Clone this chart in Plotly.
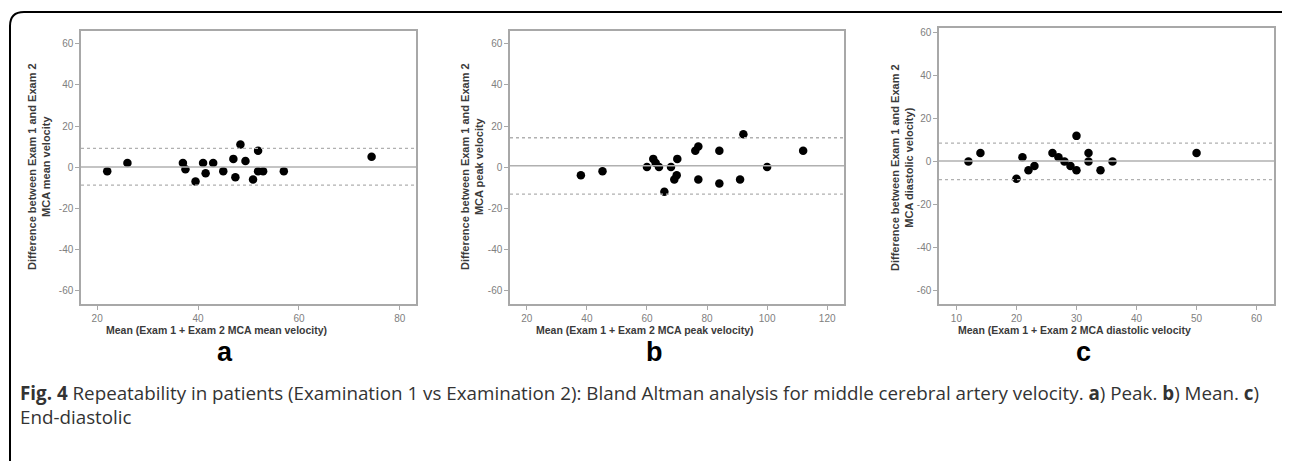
import plotly.graph_objects as go

# page body has an 8px default margin; compensate so the figure fills the 1290x461 window
OFF = 8
W, H = 1290 - OFF, 461 - OFF

# ---------------- data ----------------
a_mean = [22, 26, 37, 37.5, 39.5, 41, 41.5, 43, 45, 47, 47.4, 48.4, 49.4, 50.9, 51.9, 51.9, 52.9, 57, 74.4]
a_diff = [-2, 2, 2, -1, -7, 2, -3, 2, -2, 4, -5, 11, 3, -6, 8, -2, -2, -2, 5]
a_lines = [0.0, 9.1, -8.8]  # bias, upper LoA, lower LoA

b_mean = [38, 45.2, 60, 62.1, 62.9, 64, 65.8, 68, 69.1, 69.9, 70.1, 76.1, 77.1, 77.1, 84.1, 84.1, 91, 92.1, 100, 112]
b_diff = [-4, -2, 0, 4, 2, 0, -12, 0, -6, -4, 4, 8, 10, -6, 8, -8, -6, 16, 0, 8]
b_lines = [0.6, 14.3, -13.2]

c_mean = [12, 14, 20, 21, 22, 23, 26, 27, 28, 29, 30, 30, 32, 32, 34, 36, 50]
c_diff = [0, 4, -8, 2, -4, -2, 4, 2, 0, -2, -4, 12, 4, 0, -4, 0, 4]
c_lines = [0.3, 8.6, -8.4]

y_ticks = [60, 40, 20, 0, -20, -40, -60]
a_xticks = [20, 40, 60, 80]
b_xticks = [20, 40, 60, 80, 100, 120]
c_xticks = [10, 20, 30, 40, 50, 60]

y_titles = [["Difference between Exam 1 and Exam 2", "MCA mean velocity"],
            ["Difference between Exam 1 and Exam 2", "MCA peak velocity"],
            ["Difference between Exam 1 and Exam 2", "MCA diastolic velocity)"]]
x_titles = ["Mean (Exam 1 + Exam 2 MCA mean velocity)",
            "Mean (Exam 1 + Exam 2 MCA peak velocity)",
            "Mean (Exam 1 + Exam 2 MCA diastolic velocity"]
letters = ["a", "b", "c"]
caption1 = ("<b>Fig. 4</b> Repeatability in patients (Examination 1 vs Examination 2): Bland Altman analysis "
            "for middle cerebral artery velocity. <b>a</b>) Peak. <b>b</b>) Mean. <b>c</b>)")
caption2 = "End-diastolic"

# ---------------- layout geometry (window pixels) ----------------
def px(x):
    return (x - OFF) / W

def py(y):
    return 1 - (y - OFF) / H

panels = [
    dict(x0=81, x1=416, y0=31, y1=304, xr=[16.8, 83.2], yr=[-66.7, 66.3], ytx=39, xc=248),
    dict(x0=510, x1=844, y0=31, y1=304, xr=[14.4, 125.6], yr=[-66.7, 66.3], ytx=472, xc=677),
    dict(x0=939, x1=1274, y0=28, y1=304, xr=[7.1, 62.9], yr=[-66.4, 62.3], ytx=902, xc=1106),
]
data = [(a_mean, a_diff, a_lines, a_xticks), (b_mean, b_diff, b_lines, b_xticks), (c_mean, c_diff, c_lines, c_xticks)]

fig = go.Figure()
axis_gray = "#a8a8a8"
tick_font = dict(family="Liberation Sans, Arial", size=10, color="#808080")
shapes = []
annotations = []

for i, (p, (xs, ys, lines, xt)) in enumerate(zip(panels, data)):
    n = "" if i == 0 else str(i + 1)
    xa, ya = "x" + n, "y" + n
    fig.add_trace(go.Scatter(x=xs, y=ys, mode="markers", xaxis=xa, yaxis=ya,
                             marker=dict(size=8.5, color="black"), showlegend=False,
                             hoverinfo="x+y"))
    common = dict(showline=True, linecolor=axis_gray, linewidth=1.5, mirror=True,
                  ticks="outside", ticklen=4, tickcolor=axis_gray, tickwidth=1,
                  showgrid=False, zeroline=False, tickfont=tick_font, fixedrange=True)
    fig.update_layout(**{
        "xaxis" + n: dict(domain=[px(p["x0"]), px(p["x1"])], range=p["xr"], anchor=ya,
                          tickvals=xt, ticktext=[str(v) for v in xt], **common),
        "yaxis" + n: dict(domain=[py(p["y1"]), py(p["y0"])], range=p["yr"], anchor=xa,
                          tickvals=y_ticks, ticktext=[str(v) for v in y_ticks], **common),
    })
    # bias and limits of agreement
    for k, yv in enumerate(lines):
        shapes.append(dict(type="line", xref=xa + " domain", yref=ya, x0=0, x1=1, y0=yv, y1=yv,
                           line=dict(color="#b0b0b0", width=1.5 if k == 0 else 1.3,
                                     dash="solid" if k == 0 else "dot")))
    annotations.append(dict(text="<b>" + y_titles[i][0] + "</b><br><b>" + y_titles[i][1] + "</b>",
                            xref="paper", yref="paper", x=px(p["ytx"]), y=py(167),
                            textangle=-90, showarrow=False, xanchor="center", yanchor="middle",
                            font=dict(family="Liberation Sans, Arial", size=11, color="#3a3a3a"),
                            align="center"))
    annotations.append(dict(text="<b>" + x_titles[i] + "</b>", xref="paper", yref="paper",
                            x=px(p["xc"] - 32), y=py(330), showarrow=False, xanchor="center",
                            yanchor="middle",
                            font=dict(family="Liberation Sans, Arial", size=10.5, color="#3a3a3a")))
    annotations.append(dict(text="<b>" + letters[i] + "</b>", xref="paper", yref="paper",
                            x=px(p["xc"] - 23), y=py(352), showarrow=False, xanchor="center",
                            yanchor="middle",
                            font=dict(family="Liberation Sans, Arial", size=27, color="black")))

annotations.append(dict(text=caption1 + "<br>" + caption2, xref="paper", yref="paper",
                        x=px(18), y=py(405), showarrow=False, xanchor="left", yanchor="middle",
                        align="left", font=dict(family="Open Sans", size=18.8, color="#333333")))

# figure frame with rounded top-left corner
L, T, R, B, r = 10, 12, 1289, 475, 14
path = (f"M {px(L)},{py(B)} L {px(L)},{py(T + r)} Q {px(L)},{py(T)} {px(L + r)},{py(T)} "
        f"L {px(R - 6)},{py(T)} Q {px(R)},{py(T)} {px(R)},{py(T + 6)} L {px(R)},{py(B)}")
shapes.append(dict(type="path", xref="paper", yref="paper", path=path,
                   line=dict(color="black", width=2)))

fig.update_layout(width=W, height=H, margin=dict(l=0, r=0, t=0, b=0),
                  paper_bgcolor="white", plot_bgcolor="white",
                  shapes=shapes, annotations=annotations, showlegend=False)

fig.write_html("out.html")
